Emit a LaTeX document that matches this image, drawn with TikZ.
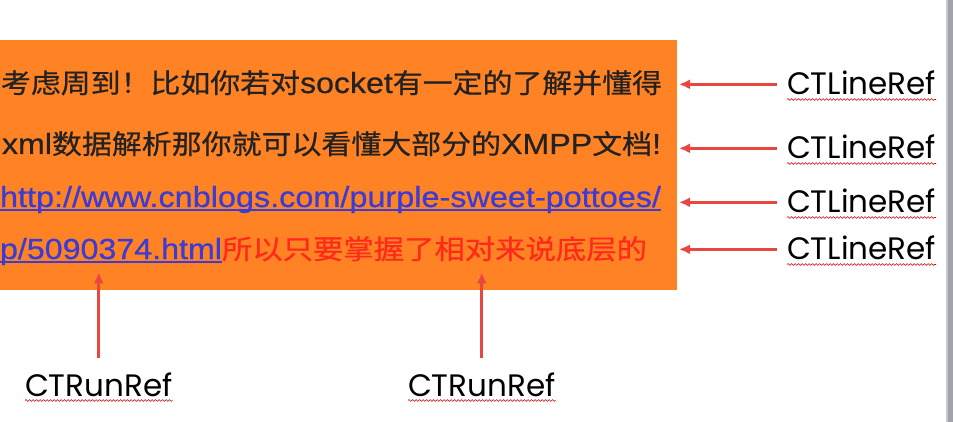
\documentclass[tikz,border=0pt]{standalone}
\usepackage{fontspec}
\usepackage{graphicx}
\usetikzlibrary{arrows.meta,decorations.pathmorphing}
\newfontfamily\cjk{Noto Sans CJK SC}[FakeBold=0.6]
\newfontfamily\lat{Liberation Sans}[FakeBold=0.6]
\newfontfamily\lbl{Poppins}
\definecolor{boxorange}{HTML}{FF8224}
\definecolor{linkblue}{HTML}{3B3BD6}
\definecolor{txtred}{HTML}{FF2A1C}
\definecolor{txtdark}{HTML}{222222}
\definecolor{arrred}{HTML}{E8463F}
\definecolor{bargray}{HTML}{9FA3AC}
\tikzset{
  boxline/.style={anchor=base west, inner sep=0pt, outer sep=0pt},
  lbltext/.style={anchor=base west, inner sep=0pt, outer sep=0pt, font=\lbl\fontsize{31}{34}\selectfont, text=black},
  arr/.style={draw=arrred, line width=3pt, -{Latex[length=11pt,width=10pt]}},
  wavy/.style={draw=red!80!black, line width=0.6pt, decorate, decoration={snake, segment length=3.5pt, amplitude=0.9pt}},
  uline/.style={line width=1.6pt}
}
\begin{document}
\begin{tikzpicture}[x=1pt,y=-1pt]
\useasboundingbox (0,0) rectangle (956,422);
\clip (0,0) rectangle (956,422);
\fill[white] (0,0) rectangle (956,422);
% orange box
\node[fill=boxorange, minimum width=700pt, minimum height=250pt, anchor=north east, inner sep=0pt] (box) at (677,40) {};
% text lines
\node[boxline, text=txtdark] (l1) at (1,93)
  {\resizebox{661pt}{\height}{\fontsize{27}{30}\selectfont\cjk 考虑周到！比如你若对{\lat\fontsize{29}{30}\selectfont socket}有一定的了解并懂得}};
\node[boxline, text=txtdark] (l2) at (2,154)
  {\resizebox{659pt}{\height}{\fontsize{27}{30}\selectfont{\lat\fontsize{29}{30}\selectfont xml}\cjk 数据解析那你就可以看懂大部分的{\lat\fontsize{29}{30}\selectfont XMPP}文档{\lat\fontsize{29}{30}\selectfont !}}};
\node[boxline, text=linkblue] (l3) at (0,207)
  {\resizebox{661pt}{\height}{\lat\fontsize{29}{30}\selectfont http://www.cnblogs.com/purple-sweet-pottoes/}};
\node[boxline, text=linkblue] (l4a) at (0,259)
  {\resizebox{222pt}{\height}{\lat\fontsize{29}{30}\selectfont p/5090374.html}};
\node[boxline, text=txtred] (l4b) at (l4a.base east)
  {\resizebox{425pt}{\height}{\cjk\fontsize{27}{30}\selectfont 所以只要掌握了相对来说底层的}};
% link underlines
\draw[uline, linkblue] ([yshift=-3pt]l3.base west) -- ([yshift=-3pt]l3.base east);
\draw[uline, linkblue] ([yshift=-3pt]l4a.base west) -- ([yshift=-3pt]l4a.base east);
% right labels
\node[lbltext] (r1) at (787,95) {CTLineRef};
\node[lbltext] (r2) at (787,159) {CTLineRef};
\node[lbltext] (r3) at (787,213) {CTLineRef};
\node[lbltext] (r4) at (787,260) {CTLineRef};
\foreach \n in {r1,r2,r3,r4}{
  \draw[wavy] ([yshift=-4.5pt]\n.base west) -- ([yshift=-4.5pt]\n.base east);
  \draw[arr] ([xshift=-10pt,yshift=-1pt]\n.west) -- ([xshift=2pt,yshift=-1pt]\n.west -| box.east);
}
% bottom labels
\node[lbltext] (b1) at (25,396) {CTRunRef};
\node[lbltext] (b2) at (408,396) {CTRunRef};
\foreach \n in {b1,b2}{
  \draw[wavy] ([yshift=-4.5pt]\n.base west) -- ([yshift=-4.5pt]\n.base east);
  \draw[arr] ([yshift=14pt]\n.north) -- ([yshift=18pt]\n.north |- box.south);
}
% right gray bar
\fill[bargray] (947,0) rectangle (953,422);
\fill[bargray!60!white] (946,0) rectangle (947.5,422);
\end{tikzpicture}
\end{document}
